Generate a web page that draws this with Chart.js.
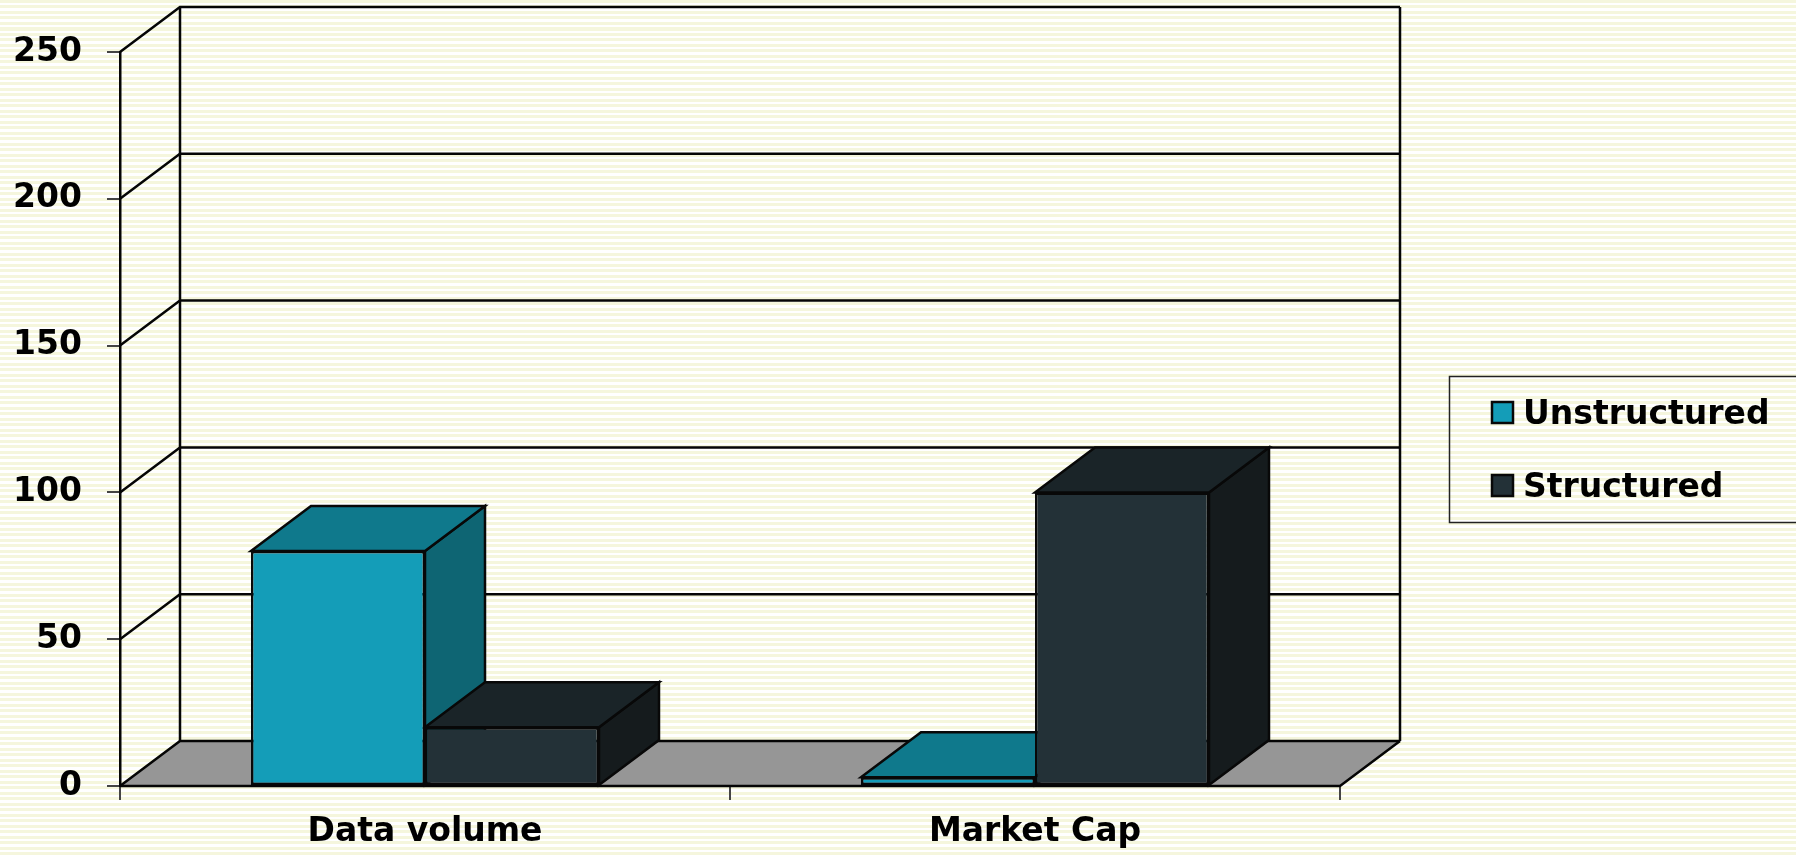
<!DOCTYPE html>
<html>
<head>
<meta charset="utf-8">
<script src="https://cdn.jsdelivr.net/npm/chart.js@4.4.1/dist/chart.umd.min.js"></script>
<style>
  html, body { margin: 0; padding: 0; }
  body {
    width: 1796px; height: 856px; overflow: hidden;
    background: repeating-linear-gradient(to bottom, #f5f6dd 0px, #f5f6dd 3px, #ffffff 3px, #ffffff 5.5px);
  }
  #wrap { position: absolute; left: 0; top: 0; width: 1796px; height: 856px; }
</style>
</head>
<body>
<div id="wrap"><canvas id="c" width="1796" height="856"></canvas></div>
<script>
// ---- data ----
const categories = ['Data volume', 'Market Cap'];
const unstructuredValues = [80, 3];
const structuredValues = [20, 100];
const seriesNames = ['Unstructured', 'Structured'];
const yTickValues = [0, 50, 100, 150, 200, 250];

// ---- styles ----
const FONT = { family: 'DejaVu Sans', weight: 'bold', size: 33 };
const DX = 60, DY = -45;
const faceColors = [
  { front: '#149db8', top: '#0f798c', side: '#0e6573' },
  { front: '#233137', top: '#1a2428', side: '#151b1d' }
];
const EDGE = '#080808';

const threeD = {
  id: 'threeD',
  beforeDatasetsDraw(chart) {
    const { ctx, chartArea: ca, scales: { x, y } } = chart;
    const y0 = y.getPixelForValue(0);
    const yTop = y.getPixelForValue(y.max);
    ctx.save();
    // floor
    ctx.fillStyle = '#969696';
    ctx.beginPath();
    ctx.moveTo(ca.left, y0);
    ctx.lineTo(ca.left + DX, y0 + DY);
    ctx.lineTo(ca.right + DX, y0 + DY);
    ctx.lineTo(ca.right, y0);
    ctx.closePath();
    ctx.fill();

    ctx.strokeStyle = '#050505';
    ctx.lineWidth = 2.5;
    ctx.lineJoin = 'miter';
    // gridlines on side + back walls
    y.ticks.forEach(t => {
      const py = y.getPixelForValue(t.value);
      ctx.beginPath();
      ctx.moveTo(ca.left, py);
      ctx.lineTo(ca.left + DX, py + DY);
      ctx.lineTo(ca.right + DX, py + DY);
      ctx.stroke();
    });
    // back verticals
    ctx.beginPath();
    ctx.moveTo(ca.left + DX, yTop + DY); ctx.lineTo(ca.left + DX, y0 + DY);
    ctx.moveTo(ca.right + DX, yTop + DY); ctx.lineTo(ca.right + DX, y0 + DY);
    // floor front edge + right diagonal
    ctx.moveTo(ca.left, y0); ctx.lineTo(ca.right, y0); ctx.lineTo(ca.right + DX, y0 + DY);
    ctx.stroke();

    // bar side + top faces
    const bars = [];
    chart.data.datasets.forEach((ds, i) => {
      chart.getDatasetMeta(i).data.forEach(el => bars.push({ el, i }));
    });
    bars.sort((a, b) => a.el.x - b.el.x);
    ctx.lineWidth = 2.5;
    ctx.strokeStyle = EDGE;
    bars.forEach(({ el, i }) => {
      const p = el.getProps(['x', 'y', 'base', 'width'], true);
      const l = p.x - p.width / 2, r = p.x + p.width / 2;
      const top = Math.min(p.y, p.base), base = Math.max(p.y, p.base);
      // side
      ctx.fillStyle = faceColors[i].side;
      ctx.beginPath();
      ctx.moveTo(r, top); ctx.lineTo(r + DX, top + DY); ctx.lineTo(r + DX, base + DY); ctx.lineTo(r, base);
      ctx.closePath(); ctx.fill(); ctx.stroke();
      // top
      ctx.fillStyle = faceColors[i].top;
      ctx.beginPath();
      ctx.moveTo(l, top); ctx.lineTo(l + DX, top + DY); ctx.lineTo(r + DX, top + DY); ctx.lineTo(r, top);
      ctx.closePath(); ctx.fill(); ctx.stroke();
    });
    ctx.restore();
  },
  afterDraw(chart) {
    const { ctx } = chart;
    ctx.save();
    // legend box
    ctx.strokeStyle = '#222';
    ctx.lineWidth = 1.5;
    ctx.strokeRect(1449.5, 376.5, 400, 146);
    ctx.font = 'bold 33px "DejaVu Sans"';
    ctx.textBaseline = 'alphabetic';
    ctx.textAlign = 'left';
    const rows = [{ sq: 402, base: 424 }, { sq: 475, base: 497 }];
    chart.data.datasets.forEach((ds, i) => {
      const r = rows[i];
      ctx.fillStyle = ds.backgroundColor;
      ctx.fillRect(1492, r.sq, 21, 21);
      ctx.strokeStyle = EDGE;
      ctx.lineWidth = 2.5;
      ctx.strokeRect(1492, r.sq, 21, 21);
      ctx.fillStyle = '#000';
      ctx.fillText(ds.label, 1523, r.base);
    });
    ctx.restore();
  }
};

new Chart(document.getElementById('c'), {
  type: 'bar',
  data: {
    labels: categories,
    datasets: [
      { label: seriesNames[0], data: unstructuredValues, backgroundColor: faceColors[0].front,
        borderColor: EDGE, borderWidth: 2.5, borderSkipped: false },
      { label: seriesNames[1], data: structuredValues, backgroundColor: faceColors[1].front,
        borderColor: EDGE, borderWidth: 2.5, borderSkipped: false }
    ]
  },
  options: {
    responsive: false,
    animation: false,
    devicePixelRatio: 1,
    layout: { padding: { top: 52, right: 456, left: 0, bottom: 0 } },
    datasets: { bar: { categoryPercentage: 0.5705, barPercentage: 1 } },
    plugins: { legend: { display: false }, tooltip: { enabled: false } },
    scales: {
      x: {
        grid: { offset: true, drawOnChartArea: false, drawTicks: true, tickLength: 14, color: '#444', lineWidth: 2 },
        border: { display: false },
        ticks: { font: FONT, color: '#000', padding: 13, maxRotation: 0, autoSkip: false },
        afterFit(s) { s.height = 70; }
      },
      y: {
        min: 0, max: 250,
        afterBuildTicks(s) { s.ticks = yTickValues.map(v => ({ value: v })); },
        grid: { drawOnChartArea: false, drawTicks: true, tickLength: 13, color: '#444', lineWidth: 2 },
        border: { display: true, color: '#050505', width: 2.5 },
        ticks: { font: FONT, color: '#000', padding: 25 },
        afterFit(s) { s.width = 120; }
      }
    }
  },
  plugins: [threeD]
});
</script>
</body>
</html>
